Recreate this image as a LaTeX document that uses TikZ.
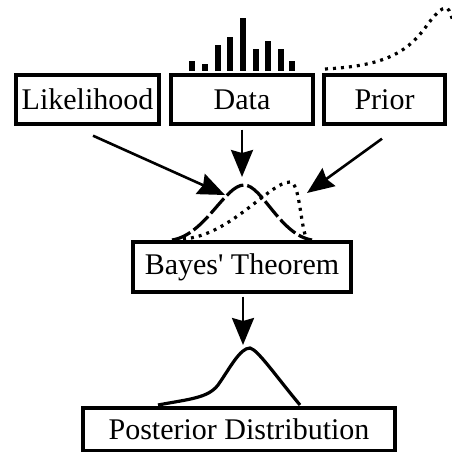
\documentclass[tikz,border=0pt]{standalone}
\usepackage{fontspec}
\setmainfont{Liberation Serif}
\usetikzlibrary{arrows.meta}

\begin{document}
\begin{tikzpicture}[x=1pt,y=-1pt,
		font=\fontsize{30}{33}\selectfont,
		box/.style={draw,line width=3.4pt,inner sep=0pt,minimum height=49pt},
		arr/.style={-{Stealth[length=27pt,width=22pt,inset=3pt]},line width=2.6pt},
		curve/.style={line width=3.2pt},
		dots/.style={curve,dash pattern=on 3pt off 5pt},
		dashes/.style={curve,dash pattern=on 20pt off 4pt},
		bar/.style={fill=black},
		]
		\useasboundingbox (0,0) rectangle (452,452);
		\clip (0,0) rectangle (452,452);
		
		% input boxes
		\node[box,minimum width=143pt] (lik) at (87.5,99.5) {Likelihood};
		\node[box,minimum width=142pt] (data) at (242,99.5) {Data};
		\node[box,minimum width=121pt] (prior) at (384.5,99.5) {Prior};
		\node[box,minimum width=218pt,minimum height=50pt] (bayes) at (242,267) {Bayes\textquotesingle\ Theorem};
		\node[box,minimum width=312pt,minimum height=43pt] (post) at (239,429.5) {Posterior Distribution};
		
		% data histogram
		\foreach \x/\t in {188.5/61,201.5/64,214.5/45,226.5/37,239.5/18,252.5/49,264.5/41,277.5/49,288.5/61}
		{\fill[bar] (\x,71) rectangle ++(6,\t-71);}
		
		% prior curve
		\draw[dots] (325,69) .. controls (380,66) and (405,55) .. (425,28)
		.. controls (435,14) and (442,7) .. (447,8)
		.. controls (450,10) and (452,18) .. (456,32);
		
		% likelihood and prior above the theorem
		\draw[dashes] (172,240) .. controls (205,235) and (225,185) .. (244,185)
		.. controls (262,185) and (280,235) .. (312,240);
		\draw[dots] (183,239) .. controls (230,236) and (270,182) .. (290,182)
		.. controls (300,182) and (300,225) .. (307,240);
		\coordinate (tipL) at (225,195);
		\coordinate (tipD) at (242,177);
		\coordinate (tipP) at (307,193);
		
		% posterior curve
		\draw[curve] (158,405) .. controls (190,399) and (208,398) .. (218,385)
		.. controls (230,368) and (240,348) .. (250,348)
		.. controls (258,350) and (275,375) .. (300,405);
		\coordinate (tipB) at (243,345);
		
		\draw[arr] ([xshift=5.5pt,yshift=-10pt]lik.south) -- (tipL);
		\draw[arr] ([yshift=-4pt]data.south) -- (tipD);
		\draw[arr] ([xshift=-2.5pt,yshift=-13pt]prior.south) -- (tipP);
		\draw[arr] ([xshift=1pt,yshift=-3pt]bayes.south) -- (tipB);
\end{tikzpicture}
\end{document}
